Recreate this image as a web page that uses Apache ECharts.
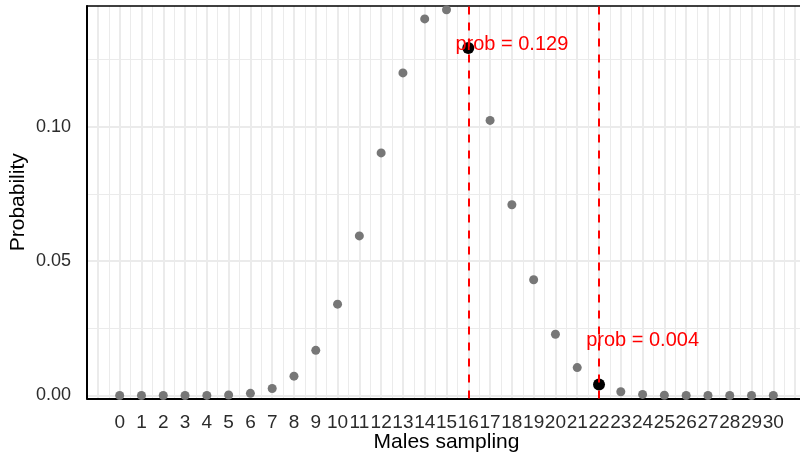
<!DOCTYPE html>
<html>
<head>
<meta charset="utf-8">
<script src="https://cdn.jsdelivr.net/npm/echarts@6/dist/echarts.min.js"></script>
<style>
  html, body { margin: 0; padding: 0; background: #fff; }
  #chart { width: 800px; height: 456px; }
</style>
</head>
<body>
<div id="chart"></div>
<script>
// number of males in the sample
const males = [0, 1, 2, 3, 4, 5, 6, 7, 8, 9, 10, 11, 12, 13, 14, 15,
  16, 17, 18, 19, 20, 21, 22, 23, 24, 25, 26, 27, 28, 29, 30]
// probability
const probs = [0, 0, 0, 0, 0.00004, 0.0002, 0.0008, 0.0026, 0.0072, 0.0168,
  0.0340, 0.0594, 0.0903, 0.1201, 0.1402, 0.1436, 0.1294, 0.1024, 0.0710,
  0.0431, 0.0228, 0.0104, 0.0041, 0.0014, 0.0004, 0.0001, 0, 0, 0, 0, 0]
// highlighted outcomes
const hiX = [16, 22]
const hiProb = [0.1294, 0.0041]
// where the text notes sit
const noteX = [18, 24]
const noteY = [0.1308, 0.0206]

const FONT = 'Liberation Sans, Arial, sans-serif'
const GRID_COLOR = '#ebebeb'

const chart = echarts.init(document.getElementById('chart'), null, { renderer: 'canvas' })

const isInt = v => Math.abs(v - Math.round(v)) < 1e-9
const hidden = { show: false }

const option = {
  backgroundColor: '#fff',
  animation: false,
  grid: [
    // data grid (y runs to 0.15 above the visible top)
    { left: 87, right: -6, top: -7.43, bottom: 60.5, outerBoundsMode: 'none', containLabel: false },
    // frame grid
    { left: 87, right: -6, top: 6, bottom: 57.5, outerBoundsMode: 'none', containLabel: false },
    // major vertical grid lines
    { left: 97.894, right: -6, top: 6, bottom: 57.5, outerBoundsMode: 'none', containLabel: false },
  ],
  xAxis: [
    {
      gridIndex: 0,
      type: 'value',
      min: -1.5,
      max: 31.5,
      interval: 0.5,
      offset: 3,
      name: 'Males sampling',
      nameLocation: 'middle',
      nameGap: 33.5,
      nameMoveOverlap: false,
      nameTextStyle: { fontFamily: FONT, fontSize: 21, color: '#000' },
      axisLine: hidden,
      axisTick: hidden,
      splitLine: hidden,
      axisLabel: {
        margin: 15,
        fontFamily: FONT,
        fontSize: 19,
        color: '#2b2b2b',
        formatter: v => (isInt(v) && v >= males[0] && v <= males[males.length - 1] ? String(v) : ''),
      },
    },
    {
      gridIndex: 1,
      type: 'value',
      min: -1.5,
      max: 31.5,
      interval: 0.5,
      axisLine: { show: true, onZero: false, lineStyle: { color: '#000', width: 2 } },
      axisTick: hidden,
      axisLabel: hidden,
      splitLine: { show: true, lineStyle: { color: GRID_COLOR, width: 1 } },
    },
    {
      gridIndex: 1,
      type: 'value',
      position: 'top',
      min: -1.5,
      max: 31.5,
      axisLine: { show: true, onZero: false, lineStyle: { color: '#000', width: 1.5 } },
      axisTick: hidden,
      axisLabel: hidden,
      splitLine: hidden,
    },
    {
      gridIndex: 2,
      type: 'value',
      min: -1,
      max: 31.5,
      interval: 1,
      axisLine: hidden,
      axisTick: hidden,
      axisLabel: hidden,
      splitLine: { show: true, lineStyle: { color: GRID_COLOR, width: 2 } },
    },
  ],
  yAxis: [
    {
      gridIndex: 0,
      type: 'value',
      min: 0,
      max: 0.15,
      interval: 0.05,
      axisLine: hidden,
      axisTick: hidden,
      axisLabel: {
        margin: 16,
        fontFamily: FONT,
        fontSize: 18,
        color: '#2b2b2b',
        formatter: v => (v < 0.145 ? v.toFixed(2) : ''),
      },
      splitLine: { show: true, lineStyle: { color: GRID_COLOR, width: 2 } },
      minorTick: { show: false, splitNumber: 2 },
      minorSplitLine: { show: true, lineStyle: { color: GRID_COLOR, width: 1 } },
    },
    {
      gridIndex: 1,
      type: 'value',
      min: -0.0011168,
      max: 0.145,
      name: 'Probability',
      nameLocation: 'middle',
      nameGap: 58,
      nameMoveOverlap: false,
      nameTextStyle: { fontFamily: FONT, fontSize: 21, color: '#000' },
      axisLine: { show: true, onZero: false, lineStyle: { color: '#000', width: 2 } },
      axisTick: hidden,
      axisLabel: hidden,
      splitLine: hidden,
    },
    {
      gridIndex: 2,
      type: 'value',
      show: false,
    },
  ],
  series: [
    {
      type: 'scatter',
      xAxisIndex: 0,
      yAxisIndex: 0,
      clip: false,
      symbolSize: 9,
      itemStyle: { color: '#777777', opacity: 1 },
      data: males.map((m, i) => [m, probs[i]]),
      z: 3,
    },
    {
      type: 'scatter',
      xAxisIndex: 1,
      yAxisIndex: 1,
      clip: false,
      symbolSize: 12,
      itemStyle: { color: '#000', opacity: 1 },
      data: hiX.map((m, i) => [m, hiProb[i]]),
      z: 4,
      markLine: {
        silent: true,
        symbol: ['none', 'none'],
        label: { show: false },
        lineStyle: { color: '#ff0000', type: [8, 8], width: 2, opacity: 1 },
        data: hiX.map(m => ({ xAxis: m })),
      },
    },
    {
      type: 'scatter',
      xAxisIndex: 0,
      yAxisIndex: 0,
      clip: false,
      symbolSize: 1,
      itemStyle: { color: 'rgba(0,0,0,0)', opacity: 1 },
      data: noteX.map((m, i) => [m, noteY[i]]),
      z: 5,
      label: {
        show: true,
        position: 'inside',
        fontFamily: FONT,
        fontSize: 20,
        color: '#ff0000',
        formatter: p => 'prob = ' + hiProb[p.dataIndex].toFixed(3),
      },
    },
  ],
}

chart.setOption(option)
</script>
</body>
</html>
